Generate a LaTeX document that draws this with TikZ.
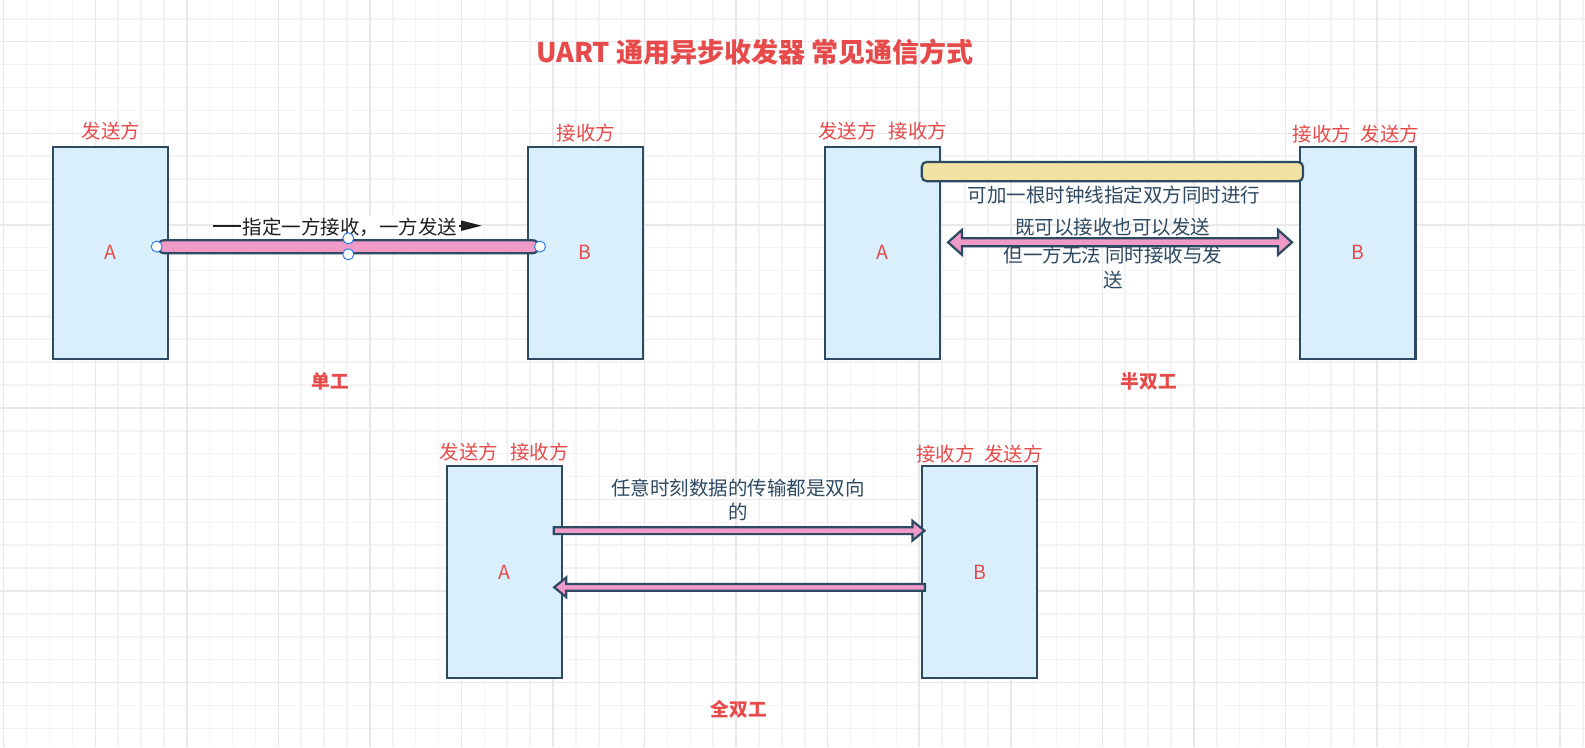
\documentclass[tikz,border=0pt]{standalone}
\usepackage{fontspec}
\setmainfont{Noto Sans CJK SC}
\usetikzlibrary{calc,arrows.meta}
\definecolor{redc}{HTML}{E64A4A}
\definecolor{boxf}{HTML}{D9EFFB}
\definecolor{boxd}{HTML}{2E4A62}
\definecolor{pinkc}{HTML}{F09AC7}
\definecolor{khaki}{HTML}{F0E2A2}
\definecolor{gridmin}{HTML}{F3F3F3}
\definecolor{gridmaj}{HTML}{E8E8E8}
\definecolor{handle}{HTML}{2F80ED}
\definecolor{labk}{HTML}{1F1F1F}
\begin{document}
\begin{tikzpicture}[x=1pt,y=-1pt,
  box/.style={draw=boxd, fill=boxf, line width=2.2pt, minimum width=115.5pt, minimum height=212pt, anchor=north west, outer sep=0pt, inner sep=0pt, text=redc, font=\fontsize{19.5}{23}\selectfont},
  redlab/.style={text=redc, font=\fontsize{19.5}{23}\selectfont, inner sep=0pt},
  sect/.style={text=redc, font=\bfseries\fontsize{18.7}{22}\selectfont, inner sep=0pt},
  note/.style={text=boxd, font=\fontsize{19.5}{24}\selectfont, inner sep=0pt, align=center},
  flex/.style={draw=boxd, fill=pinkc, line width=2.2pt, miter limit=10},
  handlept/.style={circle, draw=handle, fill=white, line width=1pt, minimum size=11pt, inner sep=0pt}
]
\useasboundingbox (0,0) rectangle (1585,747);
\fill[white] (0,0) rectangle (1585,747);
% grid
\foreach \i in {0,...,69} {\draw[gridmin, line width=1.5pt] ({3.7+\i*22.8875},0) -- ({3.7+\i*22.8875},747);}
\foreach \j in {-1,...,31} {\draw[gridmin, line width=1.5pt] (0,{41.7+\j*22.8875}) -- (1585,{41.7+\j*22.8875});}
\foreach \i in {0,...,17} {\draw[gridmaj, line width=1.5pt] ({3.7+\i*91.55},0) -- ({3.7+\i*91.55},747);}
\foreach \j in {0,...,7} {\draw[gridmaj, line width=1.5pt] (0,{41.7+\j*91.55}) -- (1585,{41.7+\j*91.55});}

% title
\node[text=redc, font=\bfseries\fontsize{27}{31}\selectfont, inner sep=0pt] (title) at (755,51.7) {UART 通用异步收发器 常见通信方式};

% ---------- simplex ----------
\node[box] (sA) at (52.6,146.6) {A};
\node[box] (sB) at (527.6,146.6) {B};
\node[redlab] (sAl) at (111,131.5) {发送方};
\node[redlab] (sBl) at (586,133) {接收方};
\node[sect] (s1) at (330,381.7) {单工};

\coordinate (la) at (213,225.7);
\coordinate (lb) at (482,225.7);
\draw[draw=labk, line width=2pt, -{Triangle[length=21pt,width=10pt]}] (la) -- (lb);
\node[fill=white, inner sep=1.5pt, text=labk, font=\fontsize{19.5}{23}\selectfont] (lt) at (350,227) {指定一方接收，一方发送};

\draw[flex, rounded corners=6.5pt] ($(sA.east)+(-10.4,-12.4)$) rectangle ($(sB.west)+(11.4,0.6)$);
\node[handlept] (h1) at ($(sA.east)+(-11.4,-6)$) {};
\node[handlept] (h2) at ($(sB.west)+(12.4,-6)$) {};
\node[handlept] (h3) at (348.3,238.3) {};
\node[handlept] (h4) at (348.3,254.3) {};

% ---------- half duplex ----------
\node[box] (hA) at (824.8,146.6) {A};
\node[box] (hB) at (1300,146.6) {B};
\node[redlab] (hAl) at (882.5,131) {发送方\hspace{12pt}接收方};
\node[redlab] (hBl) at (1356,134) {接收方\hspace{9.5pt}发送方};
\node[sect] (s2) at (1149,381.7) {半双工};

\draw[draw=boxd, fill=khaki, line width=2.2pt, rounded corners=5pt] ($(hA.east)+(-18.6,-90.7)$) rectangle ($(hB.west)+(3,-71.4)$);

\coordinate (dL) at (948,242.3);
\coordinate (dR) at (1292,242.3);
\draw[flex] (dL) -- ($(dL)+(14,-12.5)$) -- ($(dL)+(14,-4)$) -- ($(dR)+(-14,-4)$) -- ($(dR)+(-14,-12.5)$) -- (dR) -- ($(dR)+(-14,12.5)$) -- ($(dR)+(-14,4)$) -- ($(dL)+(14,4)$) -- ($(dL)+(14,12.5)$) -- cycle;

\node[note] (ht1) at (1114,195) {可加一根时钟线指定双方同时进行};
\node[note] (ht2) at (1112.5,227) {既可以接收也可以发送};
\node[note, font=\fontsize{19.5}{25}\selectfont] (ht3) at (1113,267.5) {但一方无法 同时接收与发\\送};

% ---------- full duplex ----------
\node[box] (fA) at (446.8,466.3) {A};
\node[box] (fB) at (921.8,466.3) {B};
\node[redlab] (fAl) at (504.2,452) {发送方\hspace{12pt}接收方};
\node[redlab] (fBl) at (979.4,454.5) {接收方\hspace{9.5pt}发送方};
\node[sect] (s3) at (739,709) {全双工};

\node[note, font=\fontsize{19.5}{23.4}\selectfont] (ft) at (738,500) {任意时刻数据的传输都是双向\\的};

\coordinate (r1) at (553.7,530.7);
\coordinate (r2) at (924.5,530.7);
\draw[flex] ($(r1)+(0,-3.4)$) -- ($(r2)+(-12,-3.4)$) -- ($(r2)+(-12,-9.8)$) -- (r2) -- ($(r2)+(-12,9.8)$) -- ($(r2)+(-12,3.4)$) -- ($(r1)+(0,3.4)$) -- cycle;

\coordinate (l1) at (925,587.3);
\coordinate (l2) at (554.2,587.3);
\draw[flex] ($(l1)+(0,-3.4)$) -- ($(l2)+(12,-3.4)$) -- ($(l2)+(12,-9.8)$) -- (l2) -- ($(l2)+(12,9.8)$) -- ($(l2)+(12,3.4)$) -- ($(l1)+(0,3.4)$) -- cycle;
\end{tikzpicture}
\end{document}
